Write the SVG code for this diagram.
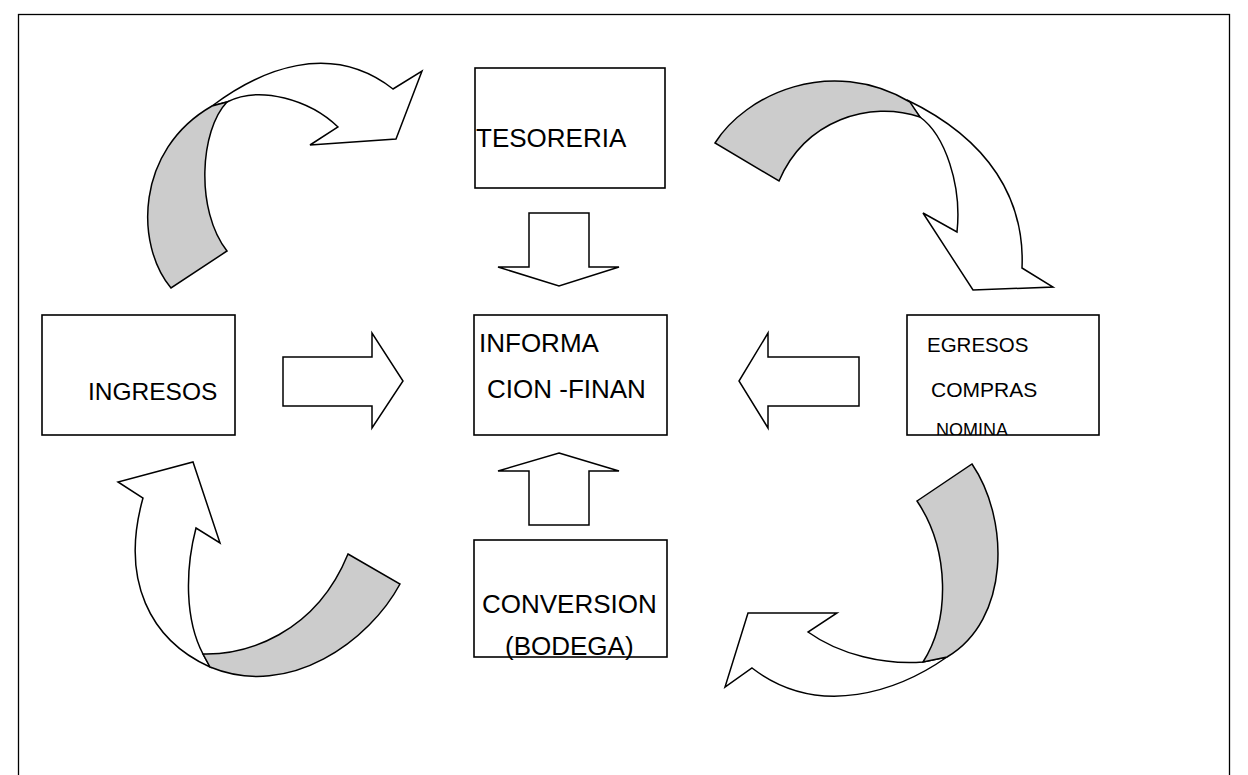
<svg xmlns="http://www.w3.org/2000/svg" width="1248" height="775" viewBox="0 0 1248 775">
  <style>
    .box { fill: #ffffff; stroke: #000000; stroke-width: 1.6; }
    .arr { fill: #ffffff; stroke: #000000; stroke-width: 1.5; stroke-linejoin: miter; }
    .band { fill: #cccccc; stroke: #000000; stroke-width: 1.5; }
    .t { font-family: "Liberation Sans", Arial, sans-serif; fill: #000000; }
  </style>
  <defs>
    <clipPath id="egClip"><rect x="907" y="315" width="192" height="120"/></clipPath>
  </defs>
  <rect x="0" y="0" width="1248" height="775" fill="#ffffff"/>
  <rect x="18.5" y="14.5" width="1211" height="800" fill="none" stroke="#000000" stroke-width="1.3"/>

  <g id="connectors">
    <!-- straight block arrows -->
    <polygon class="arr" points="529,213 589,213 589,267 619,267 559,286 498,267 529,267"/>
    <polygon class="arr" points="283,357 372,357 372,333 403,381 372,428 372,406 283,406"/>
    <polygon class="arr" points="859,357 768,357 768,333 739,381 768,428 768,406 859,406"/>
    <polygon class="arr" points="559,453 619,471 589,471 589,525 529,525 529,471 498,471"/>

    <!-- top-left curved arrow: INGRESOS -> TESORERIA -->
    <g id="curve-tl">
      <path class="arr" d="M212,106 C260,70 330,40 393,89 L422,71 L396,139 L310,145 L338,127 C310,100 260,85 227,102 Z"/>
      <path class="band" d="M171,288 C135,245 135,150 212,106 L227,102 C200,130 195,210 227,251 Z"/>
    </g>
    <!-- top-right curved arrow: TESORERIA -> EGRESOS -->
    <g id="curve-tr">
      <path class="arr" d="M907,100 C990,140 1025,200 1022,268 L1053,287 L973,290 L923,213 L957,232 C962,185 945,135 920,117 Z"/>
      <path class="band" d="M715,143 C745,95 830,55 910,102 L920,117 C870,100 805,120 779,181 Z"/>
    </g>
    <!-- bottom-right curved arrow: EGRESOS -> CONVERSION -->
    <g id="curve-br">
      <path class="arr" d="M947,657 C900,690 820,720 752,668 L725,687 L748,613 L837,613 L808,632 C840,655 885,665 923,662 Z"/>
      <path class="band" d="M917,501 L972,464 C1010,520 1010,620 947,657 L923,662 C950,620 950,550 917,501 Z"/>
    </g>
    <!-- bottom-left curved arrow: CONVERSION -> INGRESOS -->
    <g id="curve-bl">
      <path class="arr" d="M210,667 C150,640 120,580 143,498 L118,482 L193,462 L220,543 L196,528 C185,570 185,620 203,654 Z"/>
      <path class="band" d="M348,554 L400,584 C370,640 290,700 210,667 L203,654 C245,655 315,635 348,554 Z"/>
    </g>
  </g>

  <g id="tesoreria">
    <rect class="box" x="475" y="68" width="190" height="120"/>
    <text class="t" x="476" y="147" font-size="26">TESORERIA</text>
  </g>
  <g id="ingresos">
    <rect class="box" x="42" y="315" width="193" height="120"/>
    <text class="t" x="88" y="400" font-size="24.5">INGRESOS</text>
  </g>
  <g id="informacion">
    <rect class="box" x="474" y="315" width="193" height="120"/>
    <text class="t" x="479" y="352" font-size="26">INFORMA</text>
    <text class="t" x="487" y="398" font-size="26">CION -FINAN</text>
  </g>
  <g id="egresos">
    <rect class="box" x="907" y="315" width="192" height="120"/>
    <text class="t" x="927" y="352" font-size="20.5">EGRESOS</text>
    <text class="t" x="931" y="397" font-size="21">COMPRAS</text>
    <text class="t" x="936" y="436" font-size="18" clip-path="url(#egClip)">NOMINA</text>
  </g>
  <g id="conversion">
    <rect class="box" x="474" y="540" width="193" height="117"/>
    <text class="t" x="505" y="655" font-size="26">(BODEGA)</text>
    <text class="t" x="482" y="613" font-size="26">CONVERSION</text>
  </g>
</svg>
